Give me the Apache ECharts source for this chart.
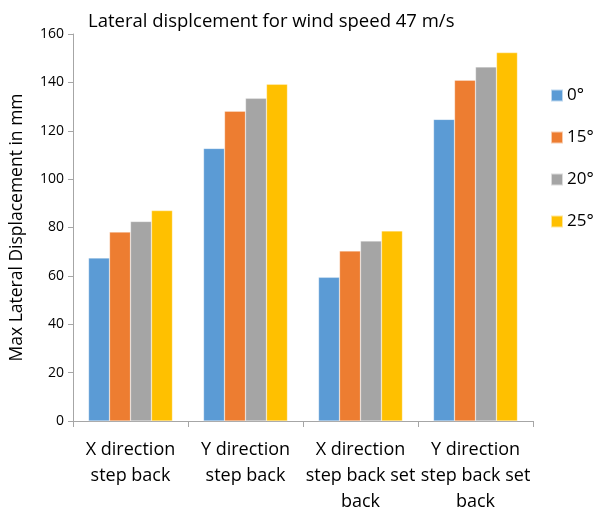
<!DOCTYPE html>
<html>
<head>
<meta charset="utf-8">
<script src="https://cdn.jsdelivr.net/npm/echarts@6/dist/echarts.min.js"></script>
<style>
  html, body { margin: 0; padding: 0; background: #fff; }
  #chart { width: 595px; height: 509px; }
</style>
</head>
<body>
<div id="chart"></div>
<script>
// Building configurations along the x axis
const categories = [
  'X direction\nstep back',
  'Y direction\nstep back',
  'X direction\nstep back set\nback',
  'Y direction\nstep back set\nback'
];

// Wind angle series names
const seriesNames = ['0°', '15°', '20°', '25°'];

// Max lateral displacement (mm) per wind angle
const angle0 = [67.4, 112.7, 59.4, 124.7];
const angle15 = [78.1, 128.1, 70.3, 140.9];
const angle20 = [82.5, 133.4, 74.4, 146.4];
const angle25 = [87.0, 139.2, 78.6, 152.3];

const yTicks = { min: 0, max: 160, interval: 20 };

const colors = ['#5B9BD5', '#ED7D31', '#A5A5A5', '#FFC000'];
const values = [angle0, angle15, angle20, angle25];
const font = '"Open Sans", "Noto Sans", sans-serif';

const chart = echarts.init(document.getElementById('chart'), null, { renderer: 'canvas' });

chart.setOption({
  animation: false,
  backgroundColor: '#ffffff',
  color: colors,
  textStyle: { fontFamily: font },
  title: {
    text: 'Lateral displcement for wind speed 47 m/s',
    left: 83,
    top: 7,
    textStyle: { fontFamily: font, fontSize: 18.5, fontWeight: 'normal', color: '#000' }
  },
  legend: {
    orient: 'vertical',
    left: 545,
    top: 82,
    itemWidth: 12,
    itemHeight: 12,
    itemGap: 25,
    icon: 'rect',
    textStyle: { fontFamily: font, fontSize: 17, color: '#000', padding: [0, 0, 0, -1] },
    data: seriesNames
  },
  // fixed plot rectangle; labels are allowed to run to the page edge
  grid: { left: 73, right: 62, top: 34, bottom: 88, containLabel: false, outerBoundsMode: 'none' },
  xAxis: {
    type: 'category',
    data: categories,
    axisLine: { lineStyle: { color: '#A6A6A6', width: 1 } },
    axisTick: { show: true, length: 6, lineStyle: { color: '#A6A6A6' } },
    axisLabel: {
      interval: 0,
      margin: 16,
      fontFamily: font,
      fontSize: 18,
      lineHeight: 26,
      color: '#000'
    }
  },
  yAxis: {
    type: 'value',
    min: yTicks.min,
    max: yTicks.max,
    interval: yTicks.interval,
    name: 'Max Lateral Displacement in mm',
    nameLocation: 'middle',
    nameGap: 47,
    nameTextStyle: { fontFamily: font, fontSize: 17.5, color: '#000' },
    axisLine: { show: true, lineStyle: { color: '#A6A6A6', width: 1 } },
    axisTick: { show: true, length: 5, lineStyle: { color: '#A6A6A6' } },
    splitLine: { show: false },
    axisLabel: { fontFamily: font, fontSize: 14, color: '#000', margin: 9 }
  },
  series: seriesNames.map((name, i) => ({
    name: name,
    type: 'bar',
    data: values[i],
    barGap: '0%',
    barCategoryGap: '27%',
    itemStyle: { color: colors[i], borderColor: 'rgba(255,255,255,0.6)', borderWidth: 0.5 }
  }))
});
</script>
</body>
</html>
